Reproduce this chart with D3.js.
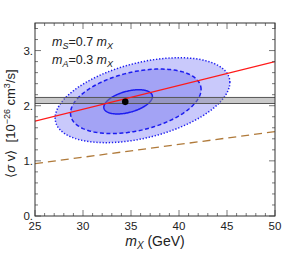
<!DOCTYPE html>
<html>
<head>
<meta charset="utf-8">
<script src="https://cdn.jsdelivr.net/npm/d3@7"></script>
<style>
  body { margin: 0; background: #fff; }
  text { font-family: "Liberation Sans", Arial, sans-serif; fill: #222; }
</style>
</head>
<body>
<div id="chart"></div>
<script>
const xDomain = [25, 50];
const yDomain = [0, 3.5];
const xMajor = [25, 30, 35, 40, 45, 50];
const yMajor = [0, 1, 2, 3];

// thermal relic band
const band = [2.04, 2.15];
// red solid line and brown dashed line, endpoints
const redLine = [[25, 1.72], [50, 2.80]];
const brownLine = [[25, 0.95], [50, 1.53]];
// best-fit point
const bestFit = [34.4, 2.07];
// contour ellipses: center x, center y, half extent x, half extent y, correlation
const contours = [
  { name: "outer", cx: 36.2, cy: 2.10, hx: 9.1, hy: 0.77, rho: 0.42, fill: "#c9c9fb", dash: "1.3,1.8" },
  { name: "mid", cx: 35.5, cy: 2.08, hx: 6.8, hy: 0.585, rho: 0.37, fill: "#a3a3f5", dash: "4,2.5" },
  { name: "inner", cx: 34.7, cy: 2.07, hx: 2.53, hy: 0.22, rho: 0.44, fill: "#8686ef", dash: null }
];

const W = 283, H = 254;
const margin = { left: 35, right: 8, top: 23, bottom: 38 };

const svg = d3.select("#chart").append("svg").attr("width", W).attr("height", H);

const x = d3.scaleLinear().domain(xDomain).range([margin.left, W - margin.right]);
const y = d3.scaleLinear().domain(yDomain).range([H - margin.bottom, margin.top]);

const plot = svg.append("g");
plot.append("clipPath").attr("id", "clip").append("rect")
  .attr("x", x(25)).attr("y", y(3.5)).attr("width", x(50) - x(25)).attr("height", y(0) - y(3.5));
const inner = plot.append("g").attr("clip-path", "url(#clip)");

// ellipse outline points from center, extents and correlation
const ellipsePts = (c) => d3.range(0, 2 * Math.PI, Math.PI / 90).map((t) => [
  c.cx + c.hx * Math.cos(t),
  c.cy + c.hy * (c.rho * Math.cos(t) + Math.sqrt(1 - c.rho * c.rho) * Math.sin(t))
]);
const line = d3.line().x((d) => x(d[0])).y((d) => y(d[1]));
const closed = d3.line().x((d) => x(d[0])).y((d) => y(d[1])).curve(d3.curveLinearClosed);

contours.forEach((c) => {
  inner.append("path").attr("d", closed(ellipsePts(c)))
    .attr("fill", c.fill).attr("stroke", "none");
});
contours.forEach((c) => {
  inner.append("path").attr("d", closed(ellipsePts(c)))
    .attr("fill", "none").attr("stroke", "#1c1cf0").attr("stroke-width", 1.5)
    .attr("stroke-dasharray", c.dash);
});

// gray band
inner.append("rect")
  .attr("x", x(25)).attr("width", x(50) - x(25))
  .attr("y", y(band[1])).attr("height", y(band[0]) - y(band[1]))
  .attr("fill", "#8a8a8a").attr("fill-opacity", 0.45);
band.forEach((b) => {
  inner.append("line").attr("x1", x(25)).attr("x2", x(50)).attr("y1", y(b)).attr("y2", y(b))
    .attr("stroke", "#555").attr("stroke-width", 1);
});

inner.append("path").attr("d", line(brownLine)).attr("fill", "none")
  .attr("stroke", "#b07a3a").attr("stroke-width", 1.3).attr("stroke-dasharray", "8,5");
inner.append("path").attr("d", line(redLine)).attr("fill", "none")
  .attr("stroke", "#ff1a1a").attr("stroke-width", 1.4);

inner.append("circle").attr("cx", x(bestFit[0])).attr("cy", y(bestFit[1])).attr("r", 3.3).attr("fill", "#000");

// ticks on all sides, pointing inward
const axisColor = "#555";
const xMinor = d3.range(25, 50.01, 1);
const yMinor = d3.range(0, 3.501, 0.2);
const tk = svg.append("g").attr("stroke", axisColor).attr("stroke-width", 0.8);
xMinor.forEach((v) => {
  const len = xMajor.includes(v) ? 6 : 3;
  tk.append("line").attr("x1", x(v)).attr("x2", x(v)).attr("y1", y(0)).attr("y2", y(0) - len);
  tk.append("line").attr("x1", x(v)).attr("x2", x(v)).attr("y1", y(3.5)).attr("y2", y(3.5) + len);
});
yMinor.forEach((v) => {
  const major = yMajor.some((m) => Math.abs(m - v) < 1e-6);
  const len = major ? 6 : 3;
  tk.append("line").attr("x1", x(25)).attr("x2", x(25) + len).attr("y1", y(v)).attr("y2", y(v));
  tk.append("line").attr("x1", x(50)).attr("x2", x(50) - len).attr("y1", y(v)).attr("y2", y(v));
});

svg.append("rect").attr("x", x(25)).attr("y", y(3.5))
  .attr("width", x(50) - x(25)).attr("height", y(0) - y(3.5))
  .attr("fill", "none").attr("stroke", "#333").attr("stroke-width", 1);

// tick labels
svg.append("g").selectAll("text").data(xMajor).join("text")
  .attr("x", (d) => x(d)).attr("y", y(0) + 14).attr("text-anchor", "middle")
  .attr("font-size", 11.5).text((d) => d);
svg.append("g").selectAll("text").data(yMajor).join("text")
  .attr("x", x(25) - 2).attr("y", (d) => y(d) + 4).attr("text-anchor", "end")
  .attr("font-size", 11.5).text((d) => d + ".");

// axis titles
const xt = svg.append("text").attr("x", (x(25) + x(50)) / 2).attr("y", H - 8)
  .attr("text-anchor", "middle").attr("font-size", 14);
xt.append("tspan").attr("font-style", "italic").text("m");
xt.append("tspan").attr("font-style", "italic").attr("font-size", 10).attr("dy", 3).text("X");
xt.append("tspan").attr("dy", -3).text(" (GeV)");

const yt = svg.append("text")
  .attr("transform", `translate(15,${(y(0) + y(3.5)) / 2 + 4}) rotate(-90)`)
  .attr("text-anchor", "middle").attr("font-size", 13);
yt.append("tspan").text("\u27E8");
yt.append("tspan").attr("font-style", "italic").text("\u03C3");
yt.append("tspan").text("\u00A0v\u27E9\u00A0\u00A0[10");
yt.append("tspan").attr("font-size", 9).attr("dy", -5).text("\u221226");
yt.append("tspan").attr("dy", 5).text("\u00A0cm");
yt.append("tspan").attr("font-size", 9).attr("dy", -5).text("3");
yt.append("tspan").attr("dy", 5).text("/s]");

// mass relations
const labels = [["S", "0.7"], ["A", "0.3"]];
labels.forEach((l, i) => {
  const t = svg.append("text").attr("x", 52).attr("y", 46 + i * 18).attr("font-size", 12.5);
  t.append("tspan").attr("font-style", "italic").text("m");
  t.append("tspan").attr("font-style", "italic").attr("font-size", 9).attr("dy", 3).text(l[0]);
  t.append("tspan").attr("dy", -3).text("=" + l[1] + "\u00A0");
  t.append("tspan").attr("font-style", "italic").text("m");
  t.append("tspan").attr("font-style", "italic").attr("font-size", 9).attr("dy", 3).text("X");
});
</script>
</body>
</html>
